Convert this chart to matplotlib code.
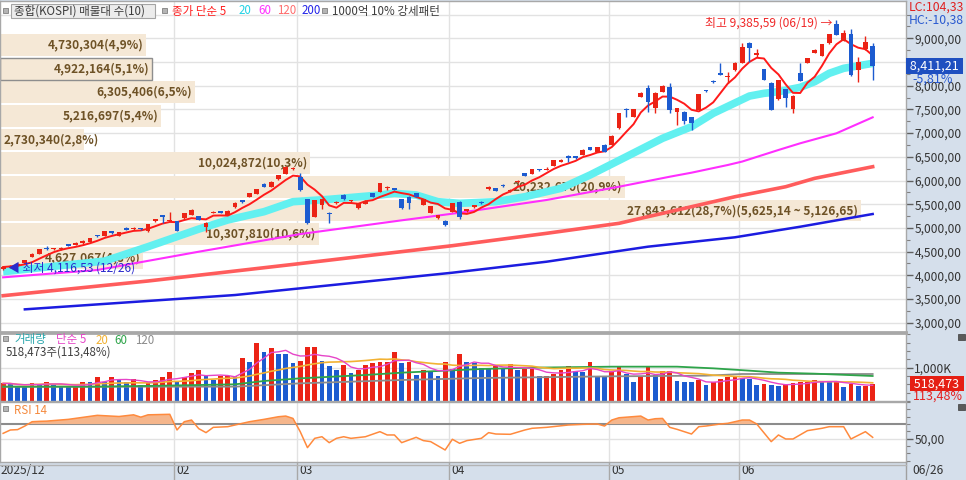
import numpy as np
import pandas as pd
import matplotlib
matplotlib.use("Agg")
import matplotlib.pyplot as plt
import matplotlib.transforms as mtransforms
from matplotlib.patches import Rectangle
from matplotlib.lines import Line2D

plt.rcParams['font.family'] = ['Noto Sans CJK KR', 'DejaVu Sans']
plt.rcParams['font.size'] = 8.3

##### Data (daily candles 12/26 .. 06/26) #####
opens = [4135, 4175, 4205, 4270, 4395, 4455, 4570, 4545, 4555, 4640,
         4645, 4680, 4705, 4835, 4835, 4915, 4835, 5000, 4978, 4985,
         4925, 5145, 5252, 5148, 5139, 5205, 5275, 5250, 5015, 5320,
         5340, 5275, 5438, 5570, 5660, 5718, 5925, 5872, 6028, 6140,
         6235, 6080, 5600, 5240, 5485, 5315, 5530, 5690, 5560, 5415,
         5508, 5728, 5766, 5832, 5825, 5600, 5655, 5732, 5485, 5322,
         5205, 5150, 5345, 5550, 5352, 5437, 5535, 5818, 5833, 5892,
         5770, 5958, 6150, 6140, 6230, 6228, 6310, 6400, 6498, 6495,
         6540, 6698, 6610, 6748, 6752, 7105, 7495, 7350, 7770, 7962,
         7525, 7876, 7975, 7455, 7450, 7340, 7490, 7902, 8092, 8272,
         8182, 8335, 8488, 8905, 8655, 8343, 8062, 7716, 7922, 7503,
         8258, 8487, 8698, 8630, 8897, 9300, 8952, 9100, 8333, 8770,
         8835]
highs = [4195, 4215, 4250, 4330, 4465, 4560, 4612, 4585, 4590, 4660,
         4695, 4735, 4795, 4860, 4935, 4935, 4920, 5010, 5010, 4995,
         5090, 5190, 5255, 5335, 5150, 5315, 5390, 5260, 5120, 5355,
         5360, 5370, 5540, 5595, 5740, 5825, 5940, 5985, 6125, 6300,
         6290, 6165, 5610, 5595, 5610, 5342, 5575, 5720, 5590, 5525,
         5585, 5740, 5950, 5880, 5840, 5610, 5665, 5745, 5610, 5470,
         5280, 5160, 5525, 5565, 5400, 5490, 5575, 5880, 5845, 5920,
         5815, 6005, 6165, 6245, 6245, 6275, 6440, 6445, 6537, 6515,
         6655, 6710, 6710, 6760, 6950, 7425, 7523, 7510, 7860, 8015,
         7865, 8005, 8050, 7535, 7465, 7350, 7835, 7915, 8110, 8472,
         8296, 8495, 8894, 8920, 8767, 8355, 8075, 8130, 7935, 7795,
         8472, 8590, 8765, 8890, 9100, 9385.59, 9175, 9190, 8612, 9048,
         8894]
lows = [4116.53, 4160, 4195, 4260, 4385, 4445, 4530, 4535, 4540, 4610,
        4635, 4670, 4695, 4800, 4825, 4880, 4825, 4950, 4960, 4955,
        4915, 5135, 5110, 5140, 4935, 5195, 5265, 5160, 4907, 5305,
        5310, 5265, 5425, 5525, 5650, 5705, 5860, 5860, 6015, 6130,
        6215, 5780, 5090, 5230, 5392, 5097, 5505, 5595, 5545, 5400,
        5495, 5650, 5755, 5810, 5795, 5405, 5392, 5650, 5475, 5310,
        5195, 5050, 5335, 5181, 5340, 5428, 5500, 5808, 5778, 5860,
        5760, 5948, 6090, 6130, 6200, 6215, 6300, 6390, 6395, 6460,
        6530, 6635, 6600, 6600, 6740, 7095, 7346, 7340, 7760, 7452,
        7418, 7865, 7420, 7171, 7195, 7065, 7480, 7875, 8050, 8225,
        8050, 8320, 8478, 8507, 8612, 8110, 7480, 7705, 7557, 7418,
        8095, 8475, 8685, 8620, 8885, 9060, 8940, 8215, 8085, 8755,
        8120]
closes = [4175, 4200, 4235, 4320, 4455, 4545, 4555, 4570, 4565, 4625,
          4685, 4725, 4785, 4820, 4925, 4900, 4910, 4960, 4992, 4970,
          5080, 5178, 5238, 5165, 4945, 5305, 5375, 5170, 5108, 5340,
          5322, 5360, 5530, 5555, 5728, 5812, 5872, 5972, 6114, 6288,
          6270, 5790, 5100, 5585, 5600, 5300, 5548, 5606, 5575, 5515,
          5572, 5662, 5938, 5848, 5808, 5415, 5532, 5662, 5600, 5460,
          5270, 5062, 5515, 5240, 5390, 5480, 5520, 5868, 5788, 5878,
          5800, 5994, 6102, 6234, 6215, 6242, 6430, 6432, 6482, 6485,
          6642, 6646, 6698, 6610, 6936, 7415, 7480, 7500, 7850, 7665,
          7850, 7990, 7490, 7520, 7250, 7210, 7822, 7888, 8078, 8235,
          8198, 8482, 8808, 8790, 8668, 8122, 7490, 8118, 7736, 7780,
          8107, 8576, 8752, 8878, 9088, 9072, 9115, 8230, 8505, 8930,
          8411.21]
# volume in thousand shares
volumes = [530, 520, 450, 445, 530, 525, 580, 470, 460, 430,
           440, 580, 560, 730, 580, 710, 630, 580, 650, 480,
           530, 630, 730, 880, 580, 710, 830, 930, 750, 630,
           750, 760, 740, 1300, 1180, 1730, 1480, 1580, 1410, 1400,
           1150, 1210, 1610, 1630, 1210, 1050, 930, 1080, 830, 930,
           1080, 1150, 1160, 1180, 1470, 1130, 1180, 780, 930, 910,
           760, 1160, 950, 1410, 1180, 1150, 980, 950, 1050, 980,
           1110, 920, 950, 960, 740, 750, 820, 920, 1050, 890,
           860, 1160, 760, 720, 890, 1020, 820, 580, 760, 1020,
           790, 890, 900, 610, 580, 560, 640, 480, 560, 660,
           720, 760, 690, 670, 480, 510, 470, 460, 520, 530,
           560, 570, 630, 590, 560, 570, 420, 520, 440, 456.9,
           518.473]

month_start = [24, 41, 62, 84, 102]
month_labels = ['02', '03', '04', '05', '06']
first_label = '2025/12'
last_label = '06/26'
low_date = '12/26'
high_date = '06/19'

# moving averages (longer history than shown)
ma20_idx = [0, 7, 14, 20, 27, 31, 36, 40, 45, 52, 54, 57, 60, 63, 68, 72, 77,
            81, 86, 91, 95, 98, 103, 105, 107, 110, 112, 114, 116, 120]
ma20_val = [4076, 4190, 4300, 4604, 4975, 5167, 5342, 5553, 5603, 5694, 5730,
            5694, 5553, 5518, 5553, 5658, 5835, 6116, 6502, 6890, 7135, 7418,
            7782, 7839, 7873, 7966, 8085, 8261, 8367, 8472]
ma60_idx = [0, 13, 27, 41, 55, 63, 75, 85, 92, 95, 100, 102, 107, 110, 115, 120]
ma60_val = [3957, 4112, 4498, 4870, 5160, 5320, 5589, 5869, 6080, 6165, 6327,
            6400, 6644, 6785, 6996, 7333]
ma120_idx = [0, 20, 40, 62, 75, 85, 92, 101, 108, 112, 120]
ma120_val = [3570, 3880, 4230, 4625, 4886, 5097, 5342, 5658, 5869, 6046, 6291]
ma200_idx = [3, 32, 62, 75, 89, 101, 110, 120]
ma200_val = [3282, 3584, 4055, 4287, 4604, 4802, 5025, 5293]

vma60_idx = [0, 13, 22, 32, 36, 41, 50, 55, 66, 73, 84, 93, 98, 103, 107, 112, 120]
vma60_val = [430, 430, 460, 500, 600, 680, 780, 850, 960, 1000, 1030, 1030,
             980, 910, 850, 820, 750]
vma120_idx = [0, 32, 41, 55, 66, 84, 97, 102, 120]
vma120_val = [430, 430, 530, 630, 690, 740, 760, 810, 810]

rsi_idx = [0, 1, 2, 3, 4, 5, 6, 9, 13, 16, 18, 19, 20, 23, 24, 25, 26, 27, 28, 29,
           31, 32, 34, 36, 38, 39, 40, 41, 42, 43, 44, 45, 46, 47, 48, 50, 52, 53,
           54, 55, 57, 58, 59, 61, 62, 63, 64, 66, 67, 68, 70, 72, 73, 75, 78, 80,
           82, 83, 84, 85, 88, 89, 90, 91, 92, 93, 95, 96, 97, 99, 100, 102, 103,
           104, 106, 107, 108, 109, 111, 113, 114, 116, 117, 119, 120]
rsi_val = [57.3, 61.9, 62.4, 67.3, 73.2, 73.7, 74.0, 76.4, 81.9, 80.3, 82.6, 79.4,
           82.6, 83.3, 61.9, 73.2, 75.5, 63.7, 58.3, 65.5, 66.4, 68.7, 73.2, 76.4,
           80.0, 80.9, 77.7, 59.6, 37.8, 50.5, 52.7, 44.6, 50.5, 52.7, 50.5, 52.7,
           59.6, 55.1, 55.1, 44.6, 51.9, 47.4, 46.0, 34.6, 49.2, 43.7, 47.4, 50.5,
           58.3, 56.4, 56.0, 61.9, 64.2, 65.5, 68.7, 69.6, 70.1, 67.3, 75.5, 78.6,
           80.9, 75.5, 77.3, 77.7, 65.5, 62.8, 56.4, 66.4, 67.3, 70.1, 71.0, 75.5,
           75.5, 70.1, 46.0, 55.1, 49.6, 49.6, 61.0, 64.2, 66.4, 66.4, 49.6, 59.6,
           51.9]

# 매물대 (volume profile), bottom band first
band_edges = [4129.67, 4628.16, 5126.65, 5625.14, 6123.63, 6622.12,
              7120.61, 7619.10, 8117.59, 8616.08, 9114.57]
band_volume = [4627067, 10307810, 27843612, 20232670, 10024872,
               2730340, 5216697, 6305406, 4922164, 4730304]
band_pct = [4.8, 10.6, 28.7, 20.9, 10.3, 2.8, 5.4, 6.5, 5.1, 4.9]

##### Styles #####
UP = '#EB2315'
DOWN = '#1C5BD0'
GRID = '#E2E2E2'
SPINE = '#A8A8A8'
BAND = '#F5E8D6'
BAND_TXT = '#6E5226'
SIDE = '#D5DFEB'
TXT = '#333333'


def kr(v, nd=2):
    # the HTS draws the decimal point like a comma
    return f"{v:,.{nd}f}".replace('.', ',')


W, H = 966, 480
def fx(px): return px / W
def fy(py): return 1 - py / H


fig = plt.figure(figsize=(9.66, 4.8), dpi=100, facecolor=SIDE)
ax = fig.add_axes([0, fy(332), fx(906), 331 / H])
axv = fig.add_axes([0, fy(401), fx(906), 68 / H], sharex=ax)
axr = fig.add_axes([0, fy(462), fx(906), 60 / H], sharex=ax)

x = np.arange(len(closes))
o, h, l, c = (np.array(a, dtype=float) for a in (opens, highs, lows, closes))
grid_x = [m - 0.4 for m in month_start]

for a in (ax, axv, axr):
    a.set_facecolor('white')
    for s in a.spines.values():
        s.set_color(SPINE)
        s.set_linewidth(1)
    a.yaxis.tick_right()
    a.tick_params(axis='y', which='major', direction='out', length=5, width=1,
                  color='#606060', labelcolor=TXT, labelsize=8.6, pad=1)
    a.tick_params(axis='y', which='minor', direction='out', length=3, width=0.8,
                  color='#808080')
    for gx in grid_x:
        a.axvline(gx, color=GRID, lw=1, zorder=0.5)
ax.spines['bottom'].set_linewidth(2)
axv.spines['top'].set_linewidth(2)
ax.set_xlim(-0.43, 124.6)
ax.tick_params(axis='x', bottom=False, labelbottom=False)
axv.tick_params(axis='x', bottom=False, labelbottom=False)

### Price panel ###
ax.set_ylim(2804, 9787)
price_ticks = np.arange(3000, 9001, 500)
ax.set_yticks(price_ticks)
ax.set_yticklabels([kr(v) for v in price_ticks])
ax.set_yticks(np.arange(3000, 9501, 250), minor=True)
for v in np.arange(3000, 9501, 500):
    ax.axhline(v, color=GRID, lw=1, zorder=0.5)

prof_tr = mtransforms.blended_transform_factory(ax.transAxes, ax.transData)
vmax = max(band_volume)
for k, (v, pct) in enumerate(zip(band_volume, band_pct)):
    lo, hi = band_edges[k], band_edges[k + 1]
    w = v / vmax * 0.95
    cur = lo <= c[-1] < hi
    ax.add_patch(Rectangle((0, lo + 12), w, hi - lo - 40, transform=prof_tr,
                           fc=BAND, ec='#8E8E8E' if cur else 'none', lw=1, zorder=1))
    label = f"{v:,}({kr(pct, 1)}%)"
    if v == vmax:
        label += f"({kr(hi)} ~ {kr(lo)})"
    mid = (lo + hi) / 2 - 8
    if w * 906 > 110:
        ax.annotate(label, xy=(w, mid), xycoords=prof_tr, xytext=(-3, 0),
                    textcoords='offset pixels', ha='right', va='center',
                    color=BAND_TXT, fontsize=8.6, fontweight='bold', zorder=1.5)
    else:
        ax.annotate(label, xy=(0, mid), xycoords=prof_tr, xytext=(4, 0),
                    textcoords='offset pixels', ha='left', va='center',
                    color=BAND_TXT, fontsize=8.6, fontweight='bold', zorder=1.5)

ax.plot(ma200_idx, ma200_val, color='#1C1CE0', lw=1.8, zorder=2)
ax.plot(ma120_idx, ma120_val, color='#FF5C5C', lw=2.6, zorder=2)
ax.plot(ma60_idx, ma60_val, color='#FF2EFF', lw=1.5, zorder=2.1)
ax.plot(ma20_idx, ma20_val, color='#62F0F0', lw=5.5, solid_capstyle='butt', zorder=2.2)
ma5 = pd.Series(c).rolling(5, min_periods=1).mean()
ax.plot(x, ma5, color='#FF1A1A', lw=1.4, zorder=3)

cols = np.where(c >= o, UP, DOWN)
ax.vlines(x, l, h, colors=cols, lw=1, zorder=4)
ax.bar(x, np.maximum(np.abs(c - o), 25), bottom=np.minimum(o, c), width=0.66,
       color=cols, lw=0, zorder=5)

i_hi = int(np.argmax(h))
i_lo = int(np.argmin(l))
ax.annotate(f"최고 {kr(h[i_hi])} ({high_date}) →", xy=(i_hi, h[i_hi]),
            xytext=(-4, -3), textcoords='offset pixels', ha='right', va='center',
            color='#F02828', fontsize=8.6, zorder=6)
ax.annotate(f"◀ 최저 {kr(l[i_lo])} ({low_date})", xy=(i_lo, l[i_lo]),
            xytext=(5, 2), textcoords='offset pixels', ha='left', va='center',
            color='#2A2ACC', fontsize=8.6, zorder=6)

chg = (c[-1] / c[-2] - 1) * 100
ax.text(1.0015, c[-1], f" {kr(c[-1])} ", transform=prof_tr, ha='left', va='center',
        color='white', fontsize=9, zorder=10, clip_on=False,
        bbox=dict(boxstyle='square,pad=0.12', fc='#1E4FC0', ec='none'))
ax.annotate(f"{kr(chg)}%", xy=(1.0, c[-1]), xycoords=prof_tr, xytext=(6, -13),
            textcoords='offset pixels', ha='left', va='center',
            color='#2456D0', fontsize=9, annotation_clip=False)

lc = (c[-1] / l[i_lo] - 1) * 100
hc = (c[-1] / h[i_hi] - 1) * 100
fig.text(fx(964), fy(7), f"LC:{kr(lc)}", ha='right', va='center', color='#E02020', fontsize=8.8)
fig.text(fx(964), fy(20), f"HC:{kr(hc)}", ha='right', va='center', color='#2A5AD0', fontsize=8.8)

# legend row
def bullet(px, py):
    fig.patches.append(Rectangle((fx(px), fy(py + 3)), 5 / W, 5 / H, transform=fig.transFigure,
                                 fc='#B4B4B4', ec='#808080', lw=0.6))

bullet(3, 10)
fig.patches.append(Rectangle((fx(11), fy(18)), 144 / W, 14 / H, transform=fig.transFigure,
                             fc='#ECECEC', ec='#A4A4A4', lw=0.8))
fig.text(fx(14), fy(11), '종합(KOSPI) 매물대 수(10)', va='center', color='#3C3C3C')
bullet(162, 10)
for txt, px, col in [('종가 단순 5', 172, '#FF2020'), ('20', 239, '#22D3E6'),
                     ('60', 258, '#FF30FF'), ('120', 277, '#FF6E6E'), ('200', 302, '#2424E8')]:
    fig.text(fx(px), fy(11), txt, va='center', color=col)
bullet(322, 10)
fig.text(fx(332), fy(11), '1000억 10% 강세패턴', va='center', color='#3C3C3C')

### Volume panel ###
vol = np.array(volumes)
vcols = [UP] + [UP if vol[i] > vol[i - 1] else DOWN for i in range(1, len(vol))]
axv.set_ylim(0, 2040)
axv.axhline(1000, color=GRID, lw=1, zorder=0.5)
axv.bar(x, vol, width=0.66, color=vcols, lw=0, zorder=2)
vs = pd.Series(vol)
axv.plot(vma120_idx, vma120_val, color='#8C8C8C', lw=1.3, zorder=3)
axv.plot(vma60_idx, vma60_val, color='#2EA44A', lw=1.3, zorder=3)
axv.plot(x, vs.rolling(20, min_periods=1).mean(), color='#F2B233', lw=1.2, zorder=3)
axv.plot(x, vs.rolling(5, min_periods=1).mean(), color='#E645C8', lw=1.0, zorder=3)
axv.set_yticks([1000])
axv.set_yticklabels(['1,000K'])
axv.set_yticks(np.arange(0, 2001, 250), minor=True)

vol_tr = mtransforms.blended_transform_factory(axv.transAxes, axv.transData)
vratio = vol[-1] / vol[-2] * 100
axv.text(1.006, vol[-1], f" {round(vol[-1] * 1000):,} ", transform=vol_tr, ha='left',
         va='center', color='white', fontsize=9, zorder=10, clip_on=False,
         bbox=dict(boxstyle='square,pad=0.1', fc='#E51F14', ec='none'))
axv.annotate(f"{kr(vratio)}%", xy=(1.0, vol[-1]), xycoords=vol_tr, xytext=(7, -12),
             textcoords='offset pixels', ha='left', va='center', color='#E52020',
             fontsize=9, annotation_clip=False)

bullet(3, 338)
for txt, px, col in [('거래량', 14, '#2AA7AD'), ('단순 5', 56, '#E645C8'), ('20', 96, '#F2B233'),
                     ('60', 114, '#2EA44A'), ('120', 135, '#8C8C8C')]:
    fig.text(fx(px), fy(340), txt, va='center', color=col)
fig.text(fx(6), fy(352), f"{round(vol[-1] * 1000):,}주({kr(vratio)}%)", va='center', color='#404040')

### RSI panel ###
rv = np.array(rsi_val)
axr.set_ylim(18.2, 100.1)
axr.axhline(50, color=GRID, lw=1, zorder=0.5)
axr.axhline(70, color='#8C8C8C', lw=1.5, zorder=1)
axr.fill_between(rsi_idx, rv, 70, where=rv >= 70, interpolate=True,
                 color='#F5B68C', lw=0, zorder=1.5)
axr.plot(rsi_idx, rv, color='#FF8A3D', lw=1.1, zorder=2)
axr.set_yticks([50])
axr.set_yticklabels(['50,00'])
axr.set_yticks(np.arange(20, 101, 10), minor=True)
axr.set_xticks(grid_x)
axr.tick_params(axis='x', direction='out', length=18, width=1, color='#A8A8A8',
                labelbottom=False)
bullet(3, 408)
fig.text(fx(14), fy(410), 'RSI 14', va='center', color='#F58A3E')

strip_tr = mtransforms.blended_transform_factory(axr.transData, axr.transAxes)
axr.text(-0.35, -0.14, first_label, transform=strip_tr, va='center', ha='left',
         color=TXT, fontsize=8.6, clip_on=False)
for gx, lab in zip(grid_x, month_labels):
    axr.text(gx + 0.3, -0.14, lab, transform=strip_tr, va='center', ha='left',
             color=TXT, fontsize=8.6, clip_on=False)
fig.text(fx(912), fy(470), last_label, va='center', color=TXT, fontsize=8.6)

fig.add_artist(Line2D([fx(906), fx(906)], [0, fy(462)], color='#A0A0A0', lw=1))
fig.add_artist(Line2D([0, fx(906)], [fy(464.5), fy(464.5)], color='#B4B4B4', lw=1))
for py in (334, 404):
    fig.patches.append(Rectangle((fx(958), fy(py + 6)), 7 / W, 6 / H, transform=fig.transFigure,
                                 fc='#5A5A5A', ec='#3C3C3C', lw=0.5))

fig.savefig('out.png', dpi=100, facecolor=fig.get_facecolor())
